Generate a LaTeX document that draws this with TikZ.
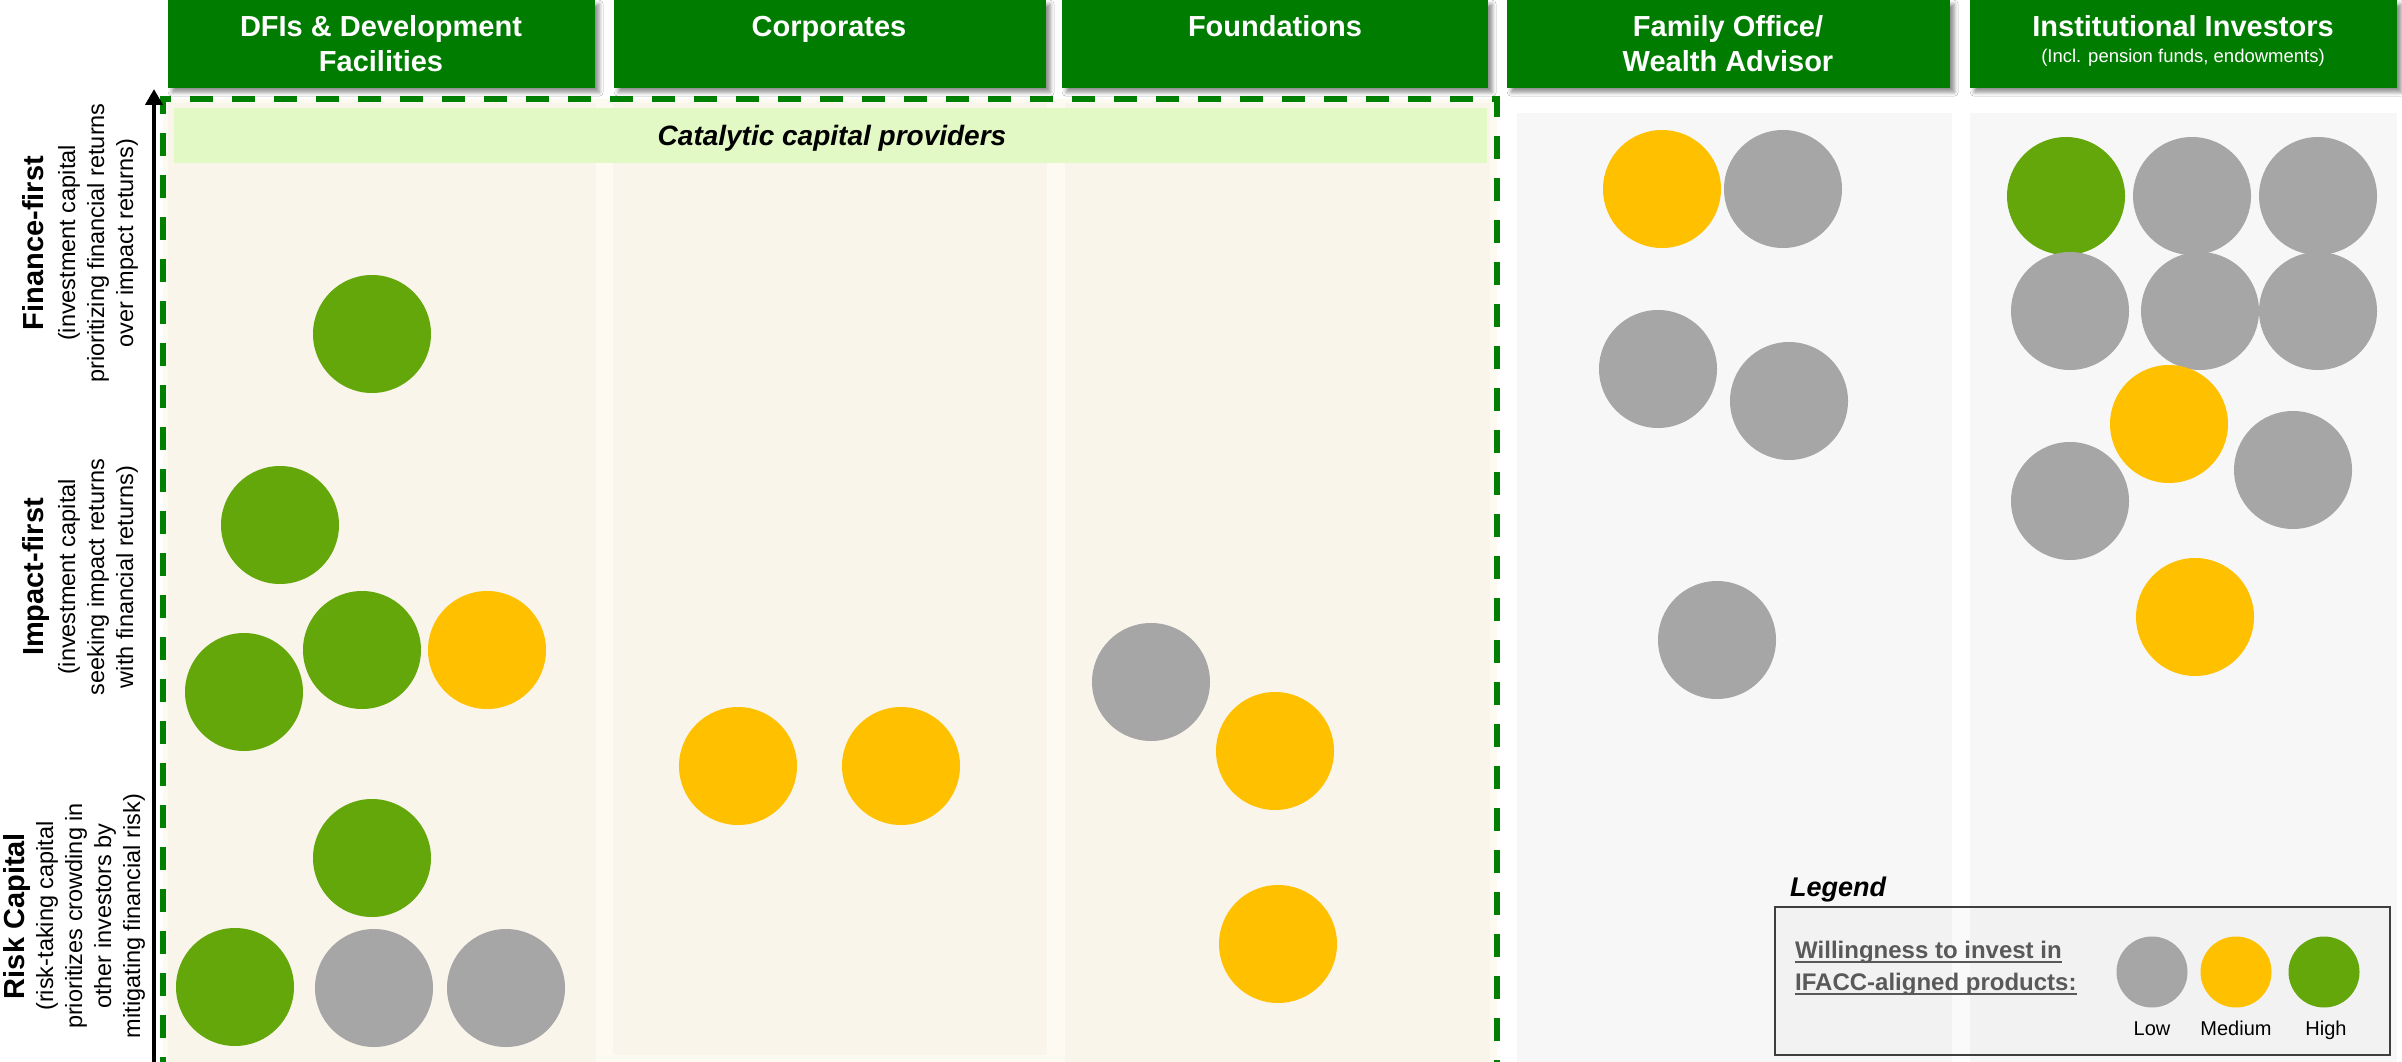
\documentclass[tikz,border=0pt]{standalone}
\usepackage{fontspec}
\setmainfont{Liberation Sans}
\usetikzlibrary{arrows.meta,shadows.blur}
\definecolor{hdrgreen}{HTML}{007D00}
\definecolor{dotgreen}{HTML}{63A70B}
\definecolor{dotyellow}{HTML}{FFC000}
\definecolor{dotgray}{HTML}{A6A6A6}
\definecolor{catbar}{HTML}{E2F9C5}
\definecolor{beigepanel}{HTML}{F9F5EA}
\definecolor{beigebg}{HTML}{FDFAF2}
\definecolor{graypanel}{HTML}{F7F7F7}
\definecolor{dashgreen}{HTML}{008000}
\definecolor{legtext}{HTML}{595959}
\definecolor{legborder}{HTML}{3F3F3F}
\newcommand\myul[1]{\setbox0\hbox{#1}\rlap{\vrule width\wd0 height -3pt depth 5pt}\box0}
\begin{document}
\begin{tikzpicture}[x=1pt,y=-1pt,
  hdrbox/.style={fill=hdrgreen, inner sep=0pt, anchor=north west,
    blur shadow={shadow xshift=4pt, shadow yshift=-4pt, shadow blur radius=4pt, shadow opacity=45}},
  hdrtxt/.style={text=white, font=\fontsize{29}{35}\selectfont\bfseries, anchor=base, inner sep=0pt},
  hdrsub/.style={text=white, font=\fontsize{18.5}{22}\selectfont, anchor=base, inner sep=0pt},
  axbold/.style={rotate=90, anchor=base, inner sep=0pt, font=\fontsize{29}{35}\selectfont\bfseries},
  axsub/.style={rotate=90, anchor=base, inner sep=0pt, font=\fontsize{23.5}{29}\selectfont},
  dot/.style={circle, minimum size=118pt, inner sep=0pt},
  dotlo/.style={dot, fill=dotgray},
  dotme/.style={dot, fill=dotyellow},
  dothi/.style={dot, fill=dotgreen},
  legdot/.style={circle, minimum size=71pt, inner sep=0pt},
  leglab/.style={anchor=base, inner sep=0pt, font=\fontsize{20}{24}\selectfont},
]
\useasboundingbox (0,0) rectangle (2402,1062);
\fill[white] (0,0) rectangle (2402,1062);

% backgrounds
\fill[beigebg] (163,99) rectangle (1497,1062);
\fill[beigepanel] (168,103) rectangle (596,1062);
\fill[beigepanel] (613,103) rectangle (1047,1055);
\fill[beigepanel] (1065,103) rectangle (1490,1062);
\fill[graypanel] (1517,113) rectangle (1952,1062);
\fill[graypanel] (1970,113) rectangle (2397,1062);

% catalytic bar
\fill[catbar] (174,108) rectangle (1487,163);
\node[anchor=base, inner sep=0pt, font=\fontsize{28}{34}\selectfont\bfseries\itshape] (cat) at (832,146) {Catalytic capital providers};

% dashed frame
\draw[dashgreen, line width=6pt, dash pattern=on 23pt off 19pt] (163,1080) -- (163,99) -- (1497,99) -- (1497,1080);

% headers
\node[hdrbox, minimum width=427pt, minimum height=88pt] (hdfi) at (168,0) {};
\node[hdrbox, minimum width=432pt, minimum height=88pt] (hcorp) at (614,0) {};
\node[hdrbox, minimum width=426pt, minimum height=88pt] (hfound) at (1062,0) {};
\node[hdrbox, minimum width=443pt, minimum height=88pt] (hfam) at (1507,0) {};
\node[hdrbox, minimum width=427pt, minimum height=88pt] (hinst) at (1970,0) {};
\node[hdrtxt] (tdfi1) at (381,37) {DFIs \& Development};
\node[hdrtxt] (tdfi2) at (381,72) {Facilities};
\node[hdrtxt] (tcorp) at (829,37) {Corporates};
\node[hdrtxt] (tfound) at (1275,37) {Foundations};
\node[hdrtxt] (tfam1) at (1728,37) {Family Office/};
\node[hdrtxt] (tfam2) at (1728,72) {Wealth Advisor};
\node[hdrtxt] (tinst1) at (2183,37) {Institutional Investors};
\node[hdrsub] (tinst2) at (2183,63) {(Incl. pension funds, endowments)};

% axis
\coordinate (axbot) at (154,1062);
\coordinate (axtop) at (154,89);
\draw[line width=4pt, -{Triangle[length=16pt,width=17pt]}] (axbot) -- (axtop);

% axis labels
\node[axbold] (ff) at (43,243) {Finance-first};
\node[axsub] (ff1) at (75,243) {(investment capital};
\node[axsub] (ff2) at (104,243) {prioritizing financial returns};
\node[axsub] (ff3) at (133,243) {over impact returns)};
\node[axbold] (if) at (43,577) {Impact-first};
\node[axsub] (if1) at (75,577) {(investment capital};
\node[axsub] (if2) at (104,577) {seeking impact returns};
\node[axsub] (if3) at (133,577) {with financial returns)};
\node[axbold] (rc) at (24,916) {Risk Capital};
\node[axsub] (rc1) at (53,916) {(risk-taking capital};
\node[axsub] (rc2) at (82,916) {prioritizes crowding in};
\node[axsub] (rc3) at (111,916) {other investors by};
\node[axsub] (rc4) at (140,916) {mitigating financial risk)};

% DFIs
\node[dothi] (d1) at (372,334) {};
\node[dothi] (d2) at (280,525) {};
\node[dothi] (d3) at (362,650) {};
\node[dothi] (d4) at (244,692) {};
\node[dotme] (d5) at (487,650) {};
\node[dothi] (d6) at (372,858) {};
\node[dothi] (d7) at (235,987) {};
\node[dotlo] (d8) at (374,988) {};
\node[dotlo] (d9) at (506,988) {};
% Corporates
\node[dotme] (c1) at (738,766) {};
\node[dotme] (c2) at (901,766) {};
% Foundations
\node[dotlo] (f1) at (1151,682) {};
\node[dotme] (f2) at (1275,751) {};
\node[dotme] (f3) at (1278,944) {};
% Family office
\node[dotme] (w1) at (1662,189) {};
\node[dotlo] (w2) at (1783,189) {};
\node[dotlo] (w3) at (1658,369) {};
\node[dotlo] (w4) at (1789,401) {};
\node[dotlo] (w5) at (1717,640) {};
% Institutional
\node[dothi] (i1) at (2066,196) {};
\node[dotlo] (i2) at (2192,196) {};
\node[dotlo] (i3) at (2318,196) {};
\node[dotlo] (i4) at (2070,311) {};
\node[dotlo] (i5) at (2200,311) {};
\node[dotlo] (i6) at (2318,311) {};
\node[dotme] (i7) at (2169,424) {};
\node[dotlo] (i8) at (2070,501) {};
\node[dotlo] (i9) at (2293,470) {};
\node[dotme] (i10) at (2195,617) {};

% legend
\node[anchor=base west, inner sep=0pt, font=\fontsize{27}{32}\selectfont\bfseries\itshape] (legtitle) at (1790,896) {Legend};
\draw[legborder, line width=2pt, fill=black, fill opacity=0.02] (1775,907) rectangle (2390,1055);
\node[anchor=base west, inner sep=0pt, text=legtext, font=\fontsize{24}{29}\selectfont\bfseries] (leg1) at (1795,958) {\myul{Willingness to invest in}};
\node[anchor=base west, inner sep=0pt, text=legtext, font=\fontsize{24}{29}\selectfont\bfseries] (leg2) at (1795,990) {\myul{IFACC-aligned products:}};
\node[legdot, fill=dotgray] (lglo) at (2152,972) {};
\node[legdot, fill=dotyellow] (lgme) at (2236,972) {};
\node[legdot, fill=dotgreen] (lghi) at (2324,972) {};
\node[leglab] (llo) at (2152,1035) {Low};
\node[leglab] (lme) at (2236,1035) {Medium};
\node[leglab] (lhi) at (2326,1035) {High};
\end{tikzpicture}
\end{document}
